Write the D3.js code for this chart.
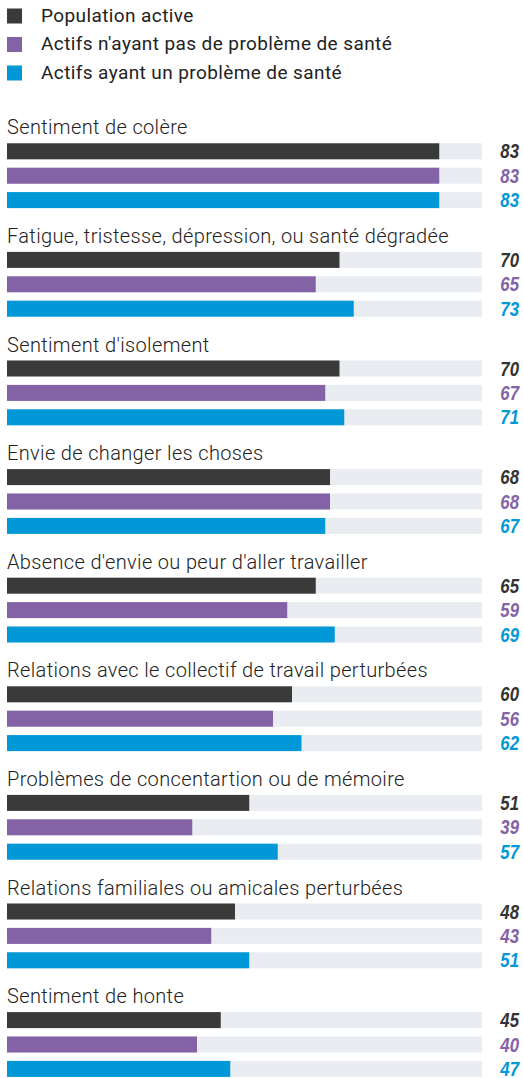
<!DOCTYPE html>
<html>
<head>
<meta charset="utf-8">
<script src="https://cdn.jsdelivr.net/npm/d3@7"></script>
<style>
  html, body { margin: 0; padding: 0; background: #fff; }
  svg { display: block; }
  .legend-label { font-family: Roboto, "Noto Sans", sans-serif; font-size: 19px; letter-spacing: 0.4px; fill: #222; }
  .cat-label { font-family: Roboto, "Noto Sans", sans-serif; font-size: 20px; font-weight: 300; letter-spacing: 0.35px; fill: #222; }
  .value-label { font-family: "Liberation Sans", Arial, sans-serif; font-size: 21px; font-weight: bold; font-style: italic; }
</style>
</head>
<body>
<script>
// data
var seriesNames = ["Population active", "Actifs n'ayant pas de problème de santé", "Actifs ayant un problème de santé"];
var seriesColors = ["#3a3a3a", "#8363a6", "#0098d6"];
var labelColors = ["#333333", "#8363a6", "#0098d6"];

var categories = [
    "Sentiment de colère",
    "Fatigue, tristesse, dépression, ou santé dégradée",
    "Sentiment d'isolement",
    "Envie de changer les choses",
    "Absence d'envie ou peur d'aller travailler",
    "Relations avec le collectif de travail perturbées",
    "Problèmes de concentartion ou de mémoire",
    "Relations familiales ou amicales perturbées",
    "Sentiment de honte"
];
var populationActive = [83, 70, 70, 68, 65, 60, 51, 48, 45];
var sansProbleme     = [83, 65, 67, 68, 59, 56, 39, 43, 40];
var avecProbleme     = [83, 73, 71, 67, 69, 62, 57, 51, 47];
// in the source picture the first group's bars are drawn at ~91 although labelled 83
var drawnOverride = {0: 91};

var _width = 523;
var _height = 1078;
var svg = d3.select("body").append("svg")
    .attr("width", _width)
    .attr("height", _height);

// legend
var legend = svg.append("g").selectAll("g")
    .data(seriesNames)
    .enter().append("g")
    .attr("transform", function (d, i) { return "translate(0," + (8.5 + i * 28.5) + ")"; });
legend.append("rect")
    .attr("x", 7).attr("y", 0)
    .attr("width", 15).attr("height", 15)
    .attr("fill", function (d, i) { return seriesColors[i]; });
legend.append("text")
    .attr("class", "legend-label")
    .attr("x", 41).attr("y", 13)
    .text(function (d) { return d; });

// bars
var x = d3.scaleLinear().domain([0, 100]).range([7, 482]);
var groupTop = 143.3, groupStep = 108.6, rowStep = 24.4, barH = 16;

var rows = categories.map(function (c, i) {
    return {
        name: c,
        index: i,
        values: [populationActive[i], sansProbleme[i], avecProbleme[i]]
    };
});

var groups = svg.append("g").selectAll("g")
    .data(rows)
    .enter().append("g")
    .attr("transform", function (d) { return "translate(0," + (groupTop + d.index * groupStep) + ")"; });

groups.append("text")
    .attr("class", "cat-label")
    .attr("x", 7).attr("y", -9)
    .text(function (d) { return d.name; });

var bars = groups.selectAll("g.bar")
    .data(function (d) {
        return d.values.map(function (v, s) {
            var drawn = drawnOverride[d.index] !== undefined ? drawnOverride[d.index] : v;
            return {value: v, drawn: drawn, series: s};
        });
    })
    .enter().append("g")
    .attr("class", "bar")
    .attr("transform", function (d) { return "translate(0," + (d.series * rowStep) + ")"; });

bars.append("rect")
    .attr("x", x(0)).attr("y", 0)
    .attr("width", x(100) - x(0)).attr("height", barH)
    .attr("fill", "#e9ecf1");

bars.append("rect")
    .attr("x", x(0)).attr("y", 0)
    .attr("width", function (d) { return x(d.drawn) - x(0); })
    .attr("height", barH)
    .attr("fill", function (d) { return seriesColors[d.series]; });

// condensed look for the numbers: squeeze horizontally, anchored at the right edge
bars.append("text")
    .attr("class", "value-label")
    .attr("transform", "translate(519," + (barH / 2 + 7) + ") scale(0.8,1)")
    .attr("text-anchor", "end")
    .attr("fill", function (d) { return labelColors[d.series]; })
    .text(function (d) { return d.value; });
</script>
</body>
</html>
